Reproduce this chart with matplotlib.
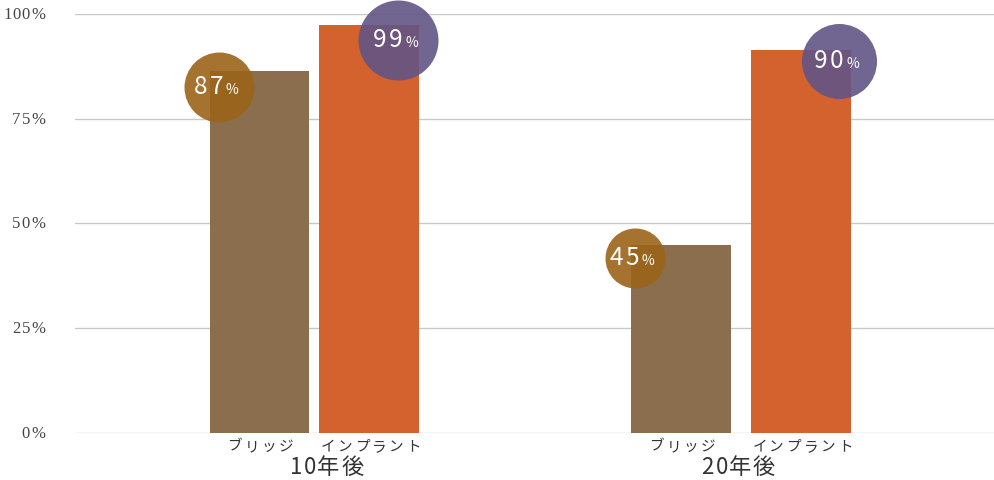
import numpy as np
import matplotlib.pyplot as plt

plt.rcParams['font.family'] = ['Noto Sans CJK JP', 'DejaVu Sans']

groups = ["10年後", "20年後"]
series = ["ブリッジ", "インプラント"]
bridge = [86.4, 44.9]
implant = [97.4, 91.4]
bridge_labels = ["87", "45"]
implant_labels = ["99", "90"]
yticks = [0, 25, 50, 75, 100]

# layout (group units): half distance between the two bars of each group
half_gap = [55 / 427, 60 / 427]
group_label_dx = [12, -3]  # px
# bubble placement (data units relative to bar centre/top) and radius in px
bridge_bub = [(-0.095, -3.8, 35), (-0.109, -3.1, 30)]
implant_bub = [(0.067, -3.6, 40), (0.089, -2.5, 37.5)]

c_bridge = "#8a6e4e"
c_implant = "#d4622e"
c_bub_bridge = "#9b6318"
c_bub_implant = "#625485"

fig = plt.figure(figsize=(9.95, 4.8), dpi=100)
ax = fig.add_axes([75 / 995, 47 / 480, 920 / 995, 419 / 480])

x = np.arange(len(groups))
off = np.array(half_gap)
w = 100 / 427
ax.bar(x - off, bridge, w, color=c_bridge, zorder=2)
ax.bar(x + off, implant, w, color=c_implant, zorder=2)

ax.set_xlim(-0.561, 1.594)
ax.set_ylim(0, 100)
ax.set_yticks(yticks)
ax.tick_params(axis="both", length=0, labelleft=False, labelbottom=False)
ax.grid(axis="y", color="#c8c8c8", linewidth=1, zorder=0)
for s in ax.spines.values():
    s.set_visible(False)

renderer = fig.canvas.get_renderer()


def spaced(s, xy, xycoords, dx, dy, spacing, ha="center", **kw):
    # draw text char by char with letter spacing (offsets in pixels)
    widths = []
    for ch in s:
        t = fig.text(0, 0, ch, **kw)
        widths.append(t.get_window_extent(renderer).width)
        t.remove()
    total = sum(widths) + spacing * (len(s) - 1)
    pos = {"center": -total / 2, "left": 0, "right": -total}[ha]
    for ch, wd in zip(s, widths):
        ax.annotate(ch, xy, xycoords=xycoords, xytext=(dx + pos, dy),
                    textcoords="offset pixels", ha="left", va="baseline",
                    annotation_clip=False, **kw)
        pos += wd + spacing


for v in yticks:
    spaced(f"{v}%", (0, v), ("axes fraction", "data"), -30, -5, 1, ha="right",
           family="Liberation Serif", fontsize=12, color="#444444")

px = 1 / 1.389  # points per pixel


def bubble(xc, yc, r, color, label):
    ax.scatter([xc], [yc], s=(2 * r * px) ** 2, color=color, alpha=0.9,
               linewidths=0, zorder=3, clip_on=False)
    spaced(label, (xc, yc), "data", 4, -7, 2, ha="right",
           color="white", fontsize=17.5, zorder=4)
    spaced("%", (xc, yc), "data", 7, -7, 0, ha="left",
           color="white", fontsize=10, zorder=4)


for i in range(len(groups)):
    dx, dy, r = bridge_bub[i]
    bubble(x[i] - off[i] + dx, bridge[i] + dy, r, c_bub_bridge, bridge_labels[i])
    dx, dy, r = implant_bub[i]
    bubble(x[i] + off[i] + dx, implant[i] + dy, r, c_bub_implant, implant_labels[i])
    for j, name in enumerate(series):
        xs = x[i] + (off[i] if j else -off[i])
        spaced(name, (xs, 0), "data", 1, -18, 2.5, ha="center",
               fontsize=10.5, color="#333333")
    spaced(groups[i], (x[i], 0), "data", group_label_dx[i], -41, 1.5, ha="center",
           fontsize=16, color="#333333")

fig.savefig("out.png", dpi=100)
